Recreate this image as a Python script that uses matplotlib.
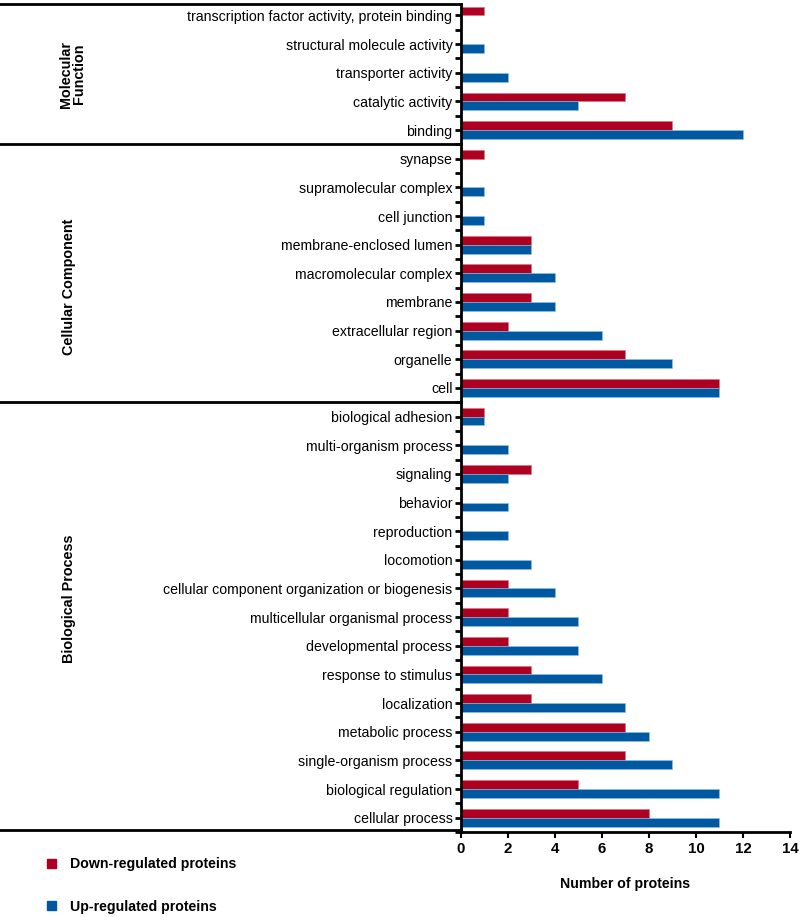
import matplotlib
matplotlib.use("Agg")
import matplotlib.pyplot as plt
import matplotlib.transforms as mtransforms
from matplotlib.patches import Patch
import numpy as np

# GO categories, top to bottom
mf_terms = ["transcription factor activity, protein binding", "structural molecule activity",
            "transporter activity", "catalytic activity", "binding"]
mf_down = [1, 0, 0, 7, 9]
mf_up = [0, 1, 2, 5, 12]

cc_terms = ["synapse", "supramolecular complex", "cell junction", "membrane-enclosed lumen",
            "macromolecular complex", "membrane", "extracellular region", "organelle", "cell"]
cc_down = [1, 0, 0, 3, 3, 3, 2, 7, 11]
cc_up = [0, 1, 1, 3, 4, 4, 6, 9, 11]

bp_terms = ["biological adhesion", "multi-organism process", "signaling", "behavior",
            "reproduction", "locomotion", "cellular component organization or biogenesis",
            "multicellular organismal process", "developmental process", "response to stimulus",
            "localization", "metabolic process", "single-organism process",
            "biological regulation", "cellular process"]
bp_down = [1, 0, 3, 0, 0, 0, 2, 2, 2, 3, 3, 7, 7, 5, 8]
bp_up = [1, 2, 2, 2, 2, 3, 4, 5, 5, 6, 7, 8, 9, 11, 11]

groups = ["Molecular\nFunction", "Cellular Component", "Biological Process"]

terms = mf_terms + cc_terms + bp_terms
down = mf_down + cc_down + bp_down
up = mf_up + cc_up + bp_up

red = "#AE0020"
blue = "#0059A0"
font = "Liberation Sans"

fig = plt.figure(figsize=(8, 9.17), dpi=100)
ax = fig.add_axes([0.576, 0.0927, 0.4115, 0.9029])

y = np.arange(len(terms))
h = 0.31
ax.barh(y - h / 2, down, height=h, color=red, edgecolor="#E0707F", linewidth=0.4)
ax.barh(y + h / 2, up, height=h, color=blue, edgecolor="#8CC4EA", linewidth=0.4)

ax.set_ylim(len(terms) - 0.58, -0.4)
ax.set_xlim(0, 14)
ax.set_xticks(range(0, 15, 2))
ax.set_yticks(y)
ax.set_yticklabels(terms, family=font, fontsize=10.2)
ax.set_yticks(y + 0.5, minor=True)

for lab in ax.get_xticklabels():
    lab.set_family(font)
    lab.set_fontweight("bold")
    lab.set_fontsize(10.8)

ax.tick_params(axis="y", which="both", length=4, width=2, pad=2)
ax.tick_params(axis="x", length=4, width=1.5, pad=3)
ax.spines["top"].set_visible(False)
ax.spines["right"].set_visible(False)
ax.spines["left"].set_linewidth(2)
ax.spines["bottom"].set_linewidth(2)

ax.set_xlabel("Number of proteins", family=font, fontweight="bold", fontsize=10.2, labelpad=15)

# group separator lines across the label area
trans = mtransforms.blended_transform_factory(ax.transAxes, ax.transData)
x0 = -0.576 / 0.4115
n1 = len(mf_terms)
n2 = n1 + len(cc_terms)
bounds = [-0.4, n1 - 0.5, n2 - 0.5, len(terms) - 0.58]
for b in bounds:
    ax.plot([x0, 0], [b, b], color="black", lw=2, transform=trans, clip_on=False)

# group labels (the lower two sit a bit above their group centre)
label_y = [(bounds[0] + bounds[1]) / 2, 9.46, 20.35]
label_x = [-1.179, -1.19, -1.19]
for g, yy, xx in zip(groups, label_y, label_x):
    ax.text(xx, yy, g, transform=trans, rotation=90, ha="center", va="center",
            fontsize=10.4, fontweight="bold", family=font, linespacing=0.95)

handles = [Patch(color=red), Patch(color=blue)]
leg = fig.legend(handles, ["Down-regulated proteins", "Up-regulated proteins"],
                 loc="upper left", bbox_to_anchor=(0.0425, 0.079), frameon=False,
                 handlelength=0.64, handleheight=0.64, handletextpad=1.0, labelspacing=2.0,
                 prop={"family": font, "weight": "bold", "size": 10.2})

fig.savefig("out.png", dpi=100, facecolor="white")
